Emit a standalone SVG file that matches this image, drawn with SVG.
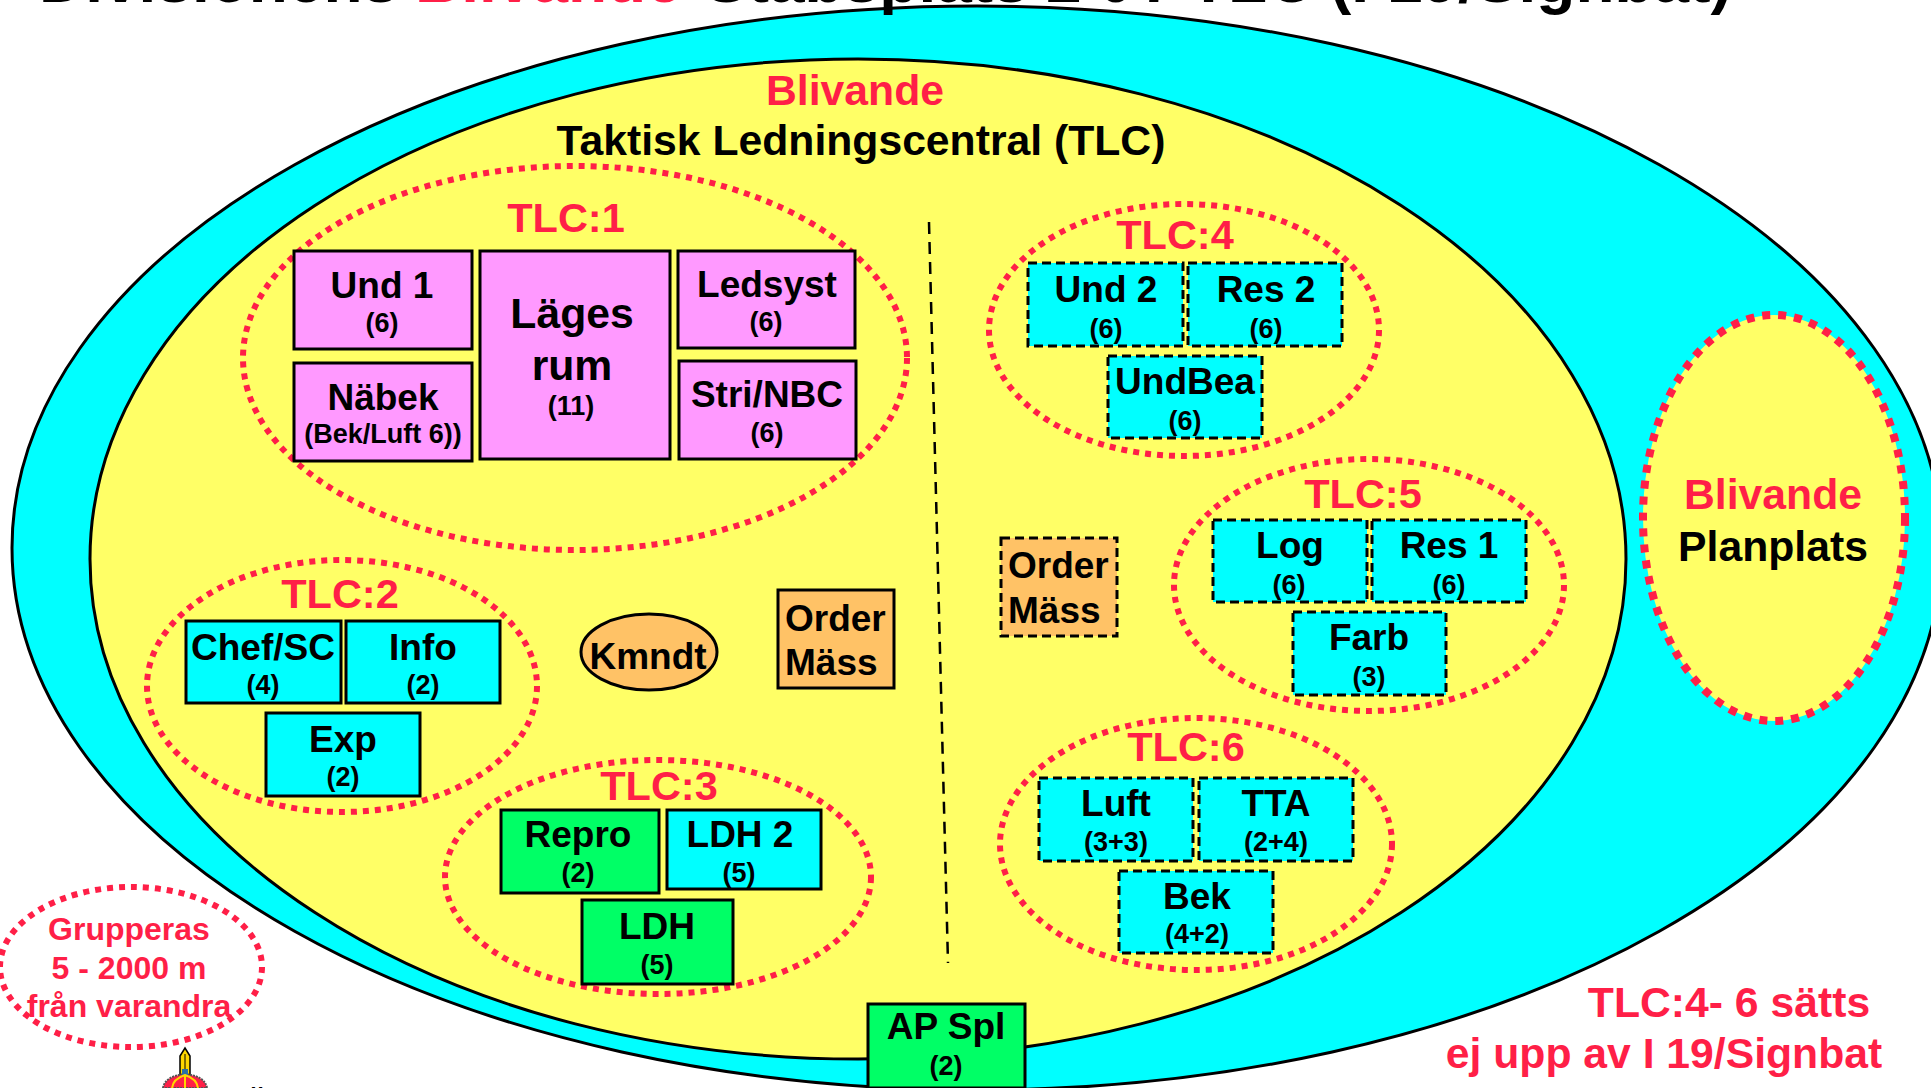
<svg xmlns="http://www.w3.org/2000/svg" width="1931" height="1088" viewBox="0 0 1931 1088">
<style>
text{font-family:"Liberation Sans",Arial,sans-serif;font-weight:bold;fill:#000;text-anchor:middle}
.r{fill:#FF1F47}
.l{font-size:42.7px}
.t{font-size:41.5px}
.m{font-size:37px}
.s{font-size:27px}
.o{font-size:37px;text-anchor:start}
.g32{font-size:32px}
.box{stroke:#000;stroke-width:3}
.d{stroke-dasharray:9 5}
.p{fill:#FF99FF}.c{fill:#00FFFF}.g{fill:#00FF66}.a{fill:#FFC266}
.dot{fill:none;stroke:#FF1F47;stroke-width:6;stroke-dasharray:6 6}
</style>
<rect width="1931" height="1088" fill="#fff"/>
<g id="outer"><ellipse cx="977" cy="548" rx="965" ry="542" fill="#00FFFF" stroke="#000" stroke-width="3"/></g>
<g id="title"><text x="39" y="2" style="font-size:64px;text-anchor:start"><tspan x="39">Divisionens</tspan><tspan x="415" class="r">Blivande</tspan><tspan x="705">Stabsplats</tspan><tspan x="1046">2</tspan><tspan x="1098">0</tspan><tspan x="1140">7</tspan><tspan x="1189">TLC</tspan><tspan x="1330">(I 19/Signbat)</tspan></text></g>
<g id="tlc"><ellipse cx="858" cy="559" rx="768" ry="500" fill="#FFFF66" stroke="#000" stroke-width="3"/>
<text class="l r" x="855" y="105">Blivande</text>
<text class="l" x="861" y="155">Taktisk Ledningscentral (TLC)</text></g>
<g id="connectors"><path d="M929 222L948 963" fill="none" stroke="#000" stroke-width="2.5" stroke-dasharray="12 8"/></g>
<g id="TLC1"><ellipse class="dot" cx="575" cy="358" rx="332" ry="192"/><text class="t r" x="566" y="232">TLC:1</text>
<g id="und1"><rect class="box p" x="294" y="251" width="178" height="98"/><text class="m" x="382" y="298">Und 1</text><text class="s" x="382" y="332">(6)</text></g>
<g id="nabek"><rect class="box p" x="294" y="363" width="178" height="98"/><text class="m" x="383" y="410">Näbek</text><text class="s" x="383" y="443">(Bek/Luft 6))</text></g>
<g id="lages"><rect class="box p" x="480" y="251" width="190" height="208"/><text class="l" x="572" y="328">Läges</text><text class="l" x="572" y="380">rum</text><text class="s" x="571" y="415">(11)</text></g>
<g id="ledsyst"><rect class="box p" x="678" y="251" width="177" height="97"/><text class="m" x="767" y="297">Ledsyst</text><text class="s" x="766" y="331">(6)</text></g>
<g id="stri"><rect class="box p" x="679" y="361" width="177" height="98"/><text class="m" x="767" y="407">Stri/NBC</text><text class="s" x="767" y="442">(6)</text></g></g>
<g id="TLC2"><ellipse class="dot" cx="342" cy="686" rx="195" ry="126"/><text class="t r" x="340" y="608">TLC:2</text>
<g id="chef"><rect class="box c" x="186" y="621" width="155" height="82"/><text class="m" x="263" y="660">Chef/SC</text><text class="s" x="263" y="694">(4)</text></g>
<g id="info"><rect class="box c" x="346" y="621" width="154" height="82"/><text class="m" x="423" y="660">Info</text><text class="s" x="423" y="694">(2)</text></g>
<g id="exp"><rect class="box c" x="266" y="713" width="154" height="83"/><text class="m" x="343" y="752">Exp</text><text class="s" x="343" y="786">(2)</text></g></g>
<g id="TLC3"><ellipse class="dot" cx="658" cy="877" rx="213" ry="117"/><text class="t r" x="659" y="800">TLC:3</text>
<g id="repro"><rect class="box g" x="501" y="810" width="158" height="83"/><text class="m" x="578" y="847">Repro</text><text class="s" x="578" y="882">(2)</text></g>
<g id="ldh2"><rect class="box c" x="667" y="810" width="154" height="79"/><text class="m" x="740" y="847">LDH 2</text><text class="s" x="739" y="882">(5)</text></g>
<g id="ldh"><rect class="box g" x="582" y="900" width="151" height="84"/><text class="m" x="657" y="939">LDH</text><text class="s" x="657" y="974">(5)</text></g></g>
<g id="kmndt"><ellipse class="box a" cx="649" cy="652" rx="68" ry="38"/><text class="o" style="text-anchor:middle" x="648" y="669">Kmndt</text></g>
<g id="order1"><rect class="box a" x="778" y="590" width="116" height="98"/><text class="o" x="785" y="631">Order</text><text class="o" x="785" y="675">Mäss</text></g>
<g id="order2"><rect class="box d a" x="1001" y="538" width="116" height="98"/><text class="o" x="1008" y="578">Order</text><text class="o" x="1008" y="623">Mäss</text></g>
<g id="TLC4"><ellipse class="dot" cx="1184" cy="330" rx="195" ry="126"/><text class="t r" x="1175" y="249">TLC:4</text>
<g id="und2"><rect class="box d c" x="1028" y="263" width="155" height="83"/><text class="m" x="1106" y="302">Und 2</text><text class="s" x="1106" y="338">(6)</text></g>
<g id="res2"><rect class="box d c" x="1188" y="263" width="154" height="83"/><text class="m" x="1266" y="302">Res 2</text><text class="s" x="1266" y="338">(6)</text></g>
<g id="undbea"><rect class="box d c" x="1108" y="356" width="154" height="82"/><text class="m" x="1185" y="394">UndBea</text><text class="s" x="1185" y="430">(6)</text></g></g>
<g id="TLC5"><ellipse class="dot" cx="1369" cy="585" rx="195" ry="126"/><text class="t r" x="1363" y="508">TLC:5</text>
<g id="log"><rect class="box d c" x="1213" y="520" width="154" height="82"/><text class="m" x="1290" y="558">Log</text><text class="s" x="1289" y="594">(6)</text></g>
<g id="res1"><rect class="box d c" x="1372" y="520" width="154" height="82"/><text class="m" x="1449" y="558">Res 1</text><text class="s" x="1449" y="594">(6)</text></g>
<g id="farb"><rect class="box d c" x="1293" y="612" width="153" height="83"/><text class="m" x="1369" y="650">Farb</text><text class="s" x="1369" y="686">(3)</text></g></g>
<g id="TLC6"><ellipse class="dot" cx="1196" cy="844" rx="196" ry="126"/><text class="t r" x="1186" y="761">TLC:6</text>
<g id="luft"><rect class="box d c" x="1039" y="778" width="154" height="83"/><text class="m" x="1116" y="816">Luft</text><text class="s" x="1116" y="851">(3+3)</text></g>
<g id="tta"><rect class="box d c" x="1199" y="778" width="154" height="83"/><text class="m" x="1276" y="816">TTA</text><text class="s" x="1276" y="851">(2+4)</text></g>
<g id="bek"><rect class="box d c" x="1119" y="871" width="154" height="82"/><text class="m" x="1197" y="909">Bek</text><text class="s" x="1197" y="943">(4+2)</text></g></g>
<g id="apspl"><rect class="box g" x="868" y="1004" width="157" height="84"/><text class="m" x="946" y="1039">AP Spl</text><text class="s" x="946" y="1075">(2)</text></g>
<g id="planplats"><ellipse cx="1774" cy="518" rx="131" ry="203" fill="#FFFF66" stroke="#FF1F47" stroke-width="8" stroke-dasharray="8 8"/><text class="l r" x="1773" y="509">Blivande</text><text class="l" x="1773" y="561">Planplats</text></g>
<g id="note"><text class="l r" x="1729" y="1017">TLC:4- 6 sätts</text><text class="l r" x="1664" y="1068">ej upp av I 19/Signbat</text></g>
<g id="gruppera"><ellipse class="dot" cx="131" cy="967" rx="131" ry="80"/><text class="r g32" x="129" y="940">Grupperas</text><text class="r g32" x="129" y="979">5 - 2000 m</text><text class="r g32" x="129" y="1017">från varandra</text></g>
<g id="emblem"><path d="M180 1078V1056L185 1048L190 1056V1078Z" fill="#FFD700" stroke="#000" stroke-width="1.5"/><path d="M185 1054V1074" stroke="#000" stroke-width="1"/>
<path d="M163 1088Q165 1076 185 1074Q205 1076 207 1088Z" fill="#FF1F47" stroke="#555" stroke-width="2" stroke-dasharray="2 1"/><rect x="182" y="1069" width="6" height="6" fill="#2A6FA8"/><path d="M172 1088Q173 1079 185 1075Q197 1079 198 1088M185 1075V1088" fill="none" stroke="#FFD700" stroke-width="2"/></g>
<g id="bottomtext"><text x="257" y="1114" style="font-size:32px">Ä</text></g>
</svg>
